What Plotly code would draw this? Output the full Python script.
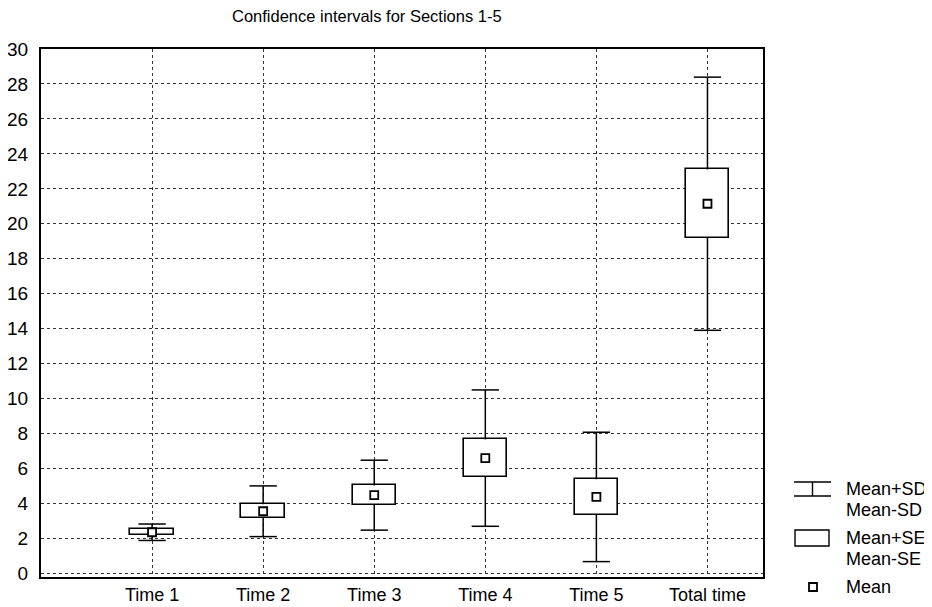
import plotly.graph_objects as go

# Values
categories = ['Time 1', 'Time 2', 'Time 3', 'Time 4', 'Time 5', 'Total time']
means = [2.36, 3.56, 4.48, 6.60, 4.38, 21.15]
sds = [0.47, 1.45, 2.00, 3.90, 3.70, 7.24]
ses = [0.17, 0.40, 0.56, 1.07, 1.01, 1.96]
yticks = list(range(0, 31, 2))

xs = list(range(len(categories)))
lower_se = [m - s for m, s in zip(means, ses)]
upper_se = [m + s for m, s in zip(means, ses)]
lower_sd = [m - s for m, s in zip(means, sds)]
upper_sd = [m + s for m, s in zip(means, sds)]

BOX_W = 0.39
CAP = 0.123

W, H = 932, 607
OFF = 8  # the page body has an 8px margin, so pull everything up/left
L, T = 41 - OFF, 49 - OFF
R = W - (763 - OFF)
B = H - (577 - OFF)
FONT = 'Liberation Sans, Arial, sans-serif'


def px(x):
    # screen pixel -> paper x
    return (x - OFF - L) / (W - L - R)


def py(y):
    # screen pixel -> paper y
    return (H - B - (y - OFF)) / (H - T - B)


# whisker segments (SE -> SD) plus caps, built from the arrays
wx, wy = [], []
for x, lo_se, hi_se, lo_sd, hi_sd in zip(xs, lower_se, upper_se, lower_sd, upper_sd):
    wx += [x, x, None, x - CAP, x + CAP, None, x, x, None, x - CAP, x + CAP, None]
    wy += [hi_se, hi_sd, None, hi_sd, hi_sd, None, lo_se, lo_sd, None, lo_sd, lo_sd, None]

fig = go.Figure()

# Box = mean +/- SE
fig.add_trace(go.Bar(
    x=xs, y=[2 * s for s in ses], base=lower_se, width=BOX_W,
    marker=dict(color='white', line=dict(color='black', width=1.6)),
    showlegend=False, hoverinfo='skip'
))

# Whiskers = mean +/- SD
fig.add_trace(go.Scatter(
    x=wx, y=wy, mode='lines', line=dict(color='black', width=1.5),
    showlegend=False, hoverinfo='skip'
))

# Mean markers
fig.add_trace(go.Scatter(
    x=xs, y=means, mode='markers',
    marker=dict(symbol='square', size=8, color='white',
                line=dict(color='black', width=1.8)),
    showlegend=False
))

# Hand made legend on the right
lc = dict(color='black', width=1.4)
shapes = [
    dict(type='line', x0=px(794), x1=px(831), y0=py(482), y1=py(482), line=lc),
    dict(type='line', x0=px(794), x1=px(831), y0=py(496), y1=py(496), line=lc),
    dict(type='line', x0=px(812.5), x1=px(812.5), y0=py(482), y1=py(496), line=lc),
    dict(type='rect', x0=px(795), x1=px(829), y0=py(530), y1=py(546), line=lc),
    dict(type='rect', x0=px(809), x1=px(817), y0=py(583), y1=py(591),
         line=dict(color='black', width=1.8)),
]
for s in shapes:
    s.update(xref='paper', yref='paper')

legend_text = [('Mean+SD', 489), ('Mean-SD', 510), ('Mean+SE', 538),
               ('Mean-SE', 559), ('Mean', 587)]
annotations = [
    dict(text=t, x=px(844), y=py(y), xref='paper', yref='paper',
         xanchor='left', yanchor='middle', showarrow=False,
         font=dict(size=18, color='black', family=FONT))
    for t, y in legend_text
]

fig.update_layout(
    width=W, height=H,
    margin=dict(l=L, r=R, t=T, b=B),
    plot_bgcolor='white', paper_bgcolor='white',
    font=dict(family=FONT, size=18, color='black'),
    title=dict(text='Confidence intervals for Sections 1-5',
               x=(232 - OFF) / W, xanchor='left', y=1 - (16 - OFF) / H,
               yanchor='middle',
               font=dict(size=16.5, color='black', family=FONT)),
    shapes=shapes, annotations=annotations,
    showlegend=False, bargap=0,
)
fig.update_xaxes(
    range=[-1, 5.5], tickvals=xs, ticktext=categories,
    showgrid=True, gridcolor='#333', griddash='dot', gridwidth=1,
    showline=True, linecolor='black', linewidth=2, mirror=True,
    ticks='', zeroline=False, automargin=False,
)
fig.update_yaxes(
    range=[-0.2, 30], tickvals=yticks,
    showgrid=True, gridcolor='#333', griddash='dot', gridwidth=1,
    showline=True, linecolor='black', linewidth=2, mirror=True,
    ticks='', zeroline=False, ticklabelstandoff=7, automargin=False,
    tickfont=dict(size=19),
)

fig.write_html('out.html')
